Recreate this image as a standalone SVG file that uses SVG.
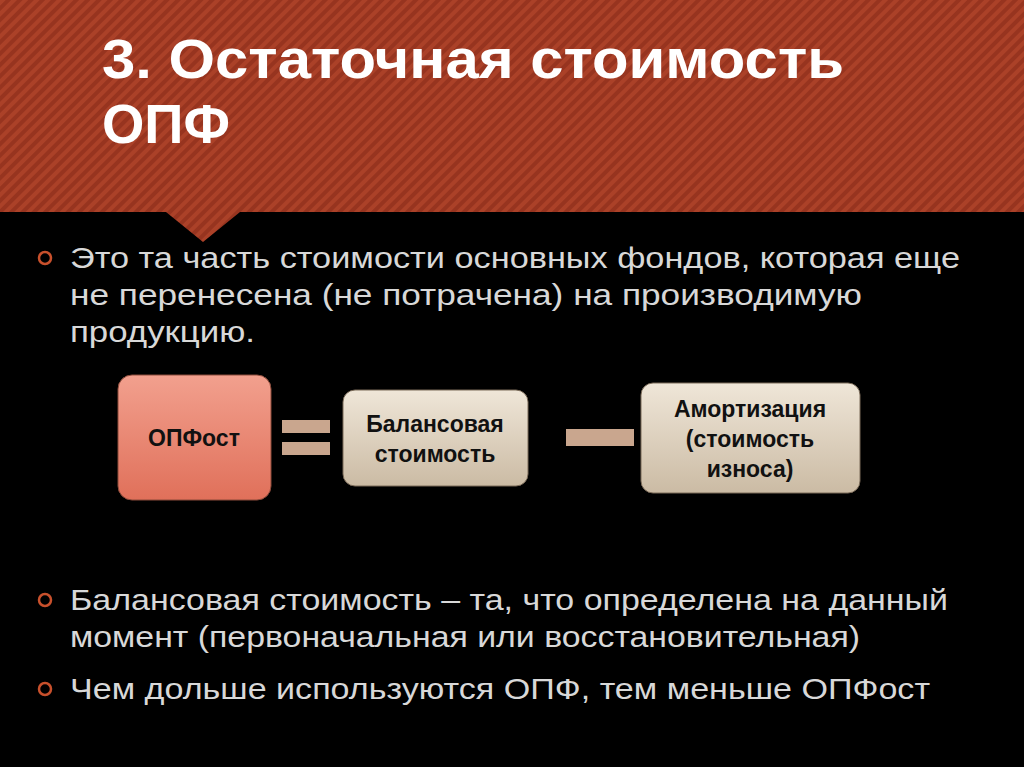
<svg xmlns="http://www.w3.org/2000/svg" width="1024" height="767" viewBox="0 0 1024 767">
<defs>
<pattern id="stripe" width="8" height="8" patternUnits="userSpaceOnUse" patternTransform="rotate(45)">
<rect width="8" height="8" fill="#97341f"/>
<rect width="4" height="8" fill="#ab4128"/>
</pattern>
<linearGradient id="red" x1="0" y1="0" x2="0" y2="1"><stop offset="0" stop-color="#f2a08e"/><stop offset="1" stop-color="#e0705a"/></linearGradient>
<linearGradient id="beige" x1="0" y1="0" x2="0" y2="1"><stop offset="0" stop-color="#efe6d8"/><stop offset="1" stop-color="#cbbba4"/></linearGradient>
</defs>
<style>
.t{font-family:"Liberation Sans",Arial,sans-serif;fill:#d8d8d8;font-size:30px}
.h{font-family:"Liberation Sans",Arial,sans-serif;fill:#fff;font-size:56px;font-weight:bold}
.b{font-family:"Liberation Sans",Arial,sans-serif;fill:#111;font-size:23px;font-weight:bold;text-anchor:middle}
.bul{fill:none;stroke:#c8502c;stroke-width:2.5}
.op{fill:#c9a68e}
</style>
<rect width="1024" height="767" fill="#000"/>
<path d="M0 0H1024V212H240L203 242L166 212H0Z" fill="url(#stripe)"/>
<text class="h" x="102" y="78" textLength="742" lengthAdjust="spacingAndGlyphs">3. Остаточная стоимость</text>
<text class="h" x="102" y="143" textLength="128" lengthAdjust="spacingAndGlyphs">ОПФ</text>
<circle class="bul" cx="45" cy="258" r="6"/>
<text class="t" x="70" y="268" textLength="890" lengthAdjust="spacingAndGlyphs">Это та часть стоимости основных фондов, которая еще</text>
<text class="t" x="70" y="305" textLength="792" lengthAdjust="spacingAndGlyphs">не перенесена (не потрачена) на производимую</text>
<text class="t" x="70" y="342" textLength="185" lengthAdjust="spacingAndGlyphs">продукцию.</text>
<g id="opfost"><rect x="118" y="375" width="153" height="125" rx="14" fill="url(#red)" stroke="#8a4a3a"/><text class="b" x="194" y="446">ОПФост</text></g>
<g id="connectors">
<rect class="op" x="282" y="420" width="48" height="13"/><rect class="op" x="282" y="442" width="48" height="13"/>
<rect class="op" x="566" y="429" width="68" height="17"/>
</g>
<g id="balance"><rect x="343" y="390" width="185" height="96" rx="12" fill="url(#beige)" stroke="#7a6a58"/><text class="b" x="435" y="432">Балансовая</text><text class="b" x="435" y="462">стоимость</text></g>
<g id="amort"><rect x="641" y="383" width="219" height="110" rx="12" fill="url(#beige)" stroke="#7a6a58"/><text class="b" x="750" y="417">Амортизация</text><text class="b" x="750" y="447">(стоимость</text><text class="b" x="750" y="477">износа)</text></g>
<circle class="bul" cx="45" cy="600" r="6"/>
<text class="t" x="70" y="610" textLength="878" lengthAdjust="spacingAndGlyphs">Балансовая стоимость – та, что определена на данный</text>
<text class="t" x="70" y="647" textLength="790" lengthAdjust="spacingAndGlyphs">момент (первоначальная или восстановительная)</text>
<circle class="bul" cx="45" cy="689" r="6"/>
<text class="t" x="70" y="699" textLength="860" lengthAdjust="spacingAndGlyphs">Чем дольше используются ОПФ, тем меньше ОПФост</text>
</svg>
